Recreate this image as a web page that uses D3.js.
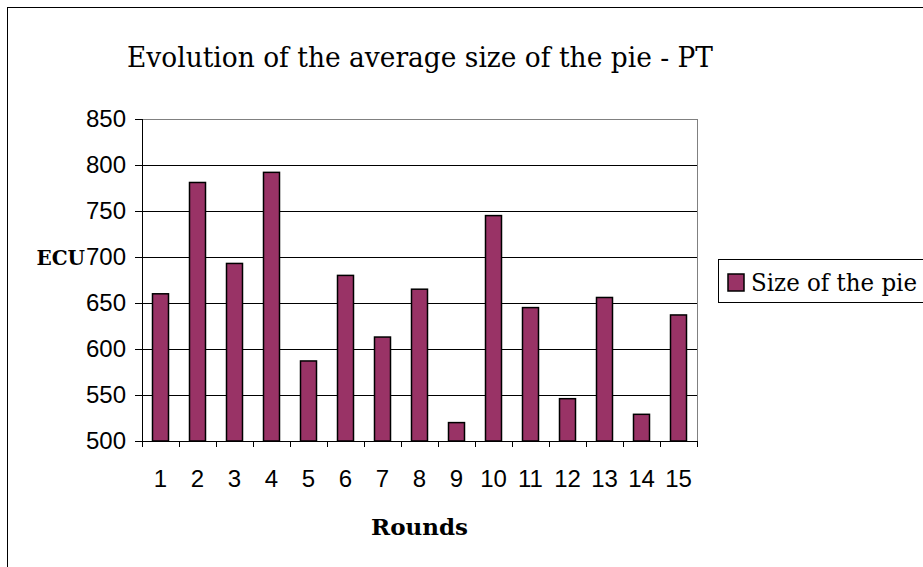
<!DOCTYPE html>
<html>
<head>
<meta charset="utf-8">
<script src="https://cdn.jsdelivr.net/npm/d3@7"></script>
<style>
    html, body { margin: 0; padding: 0; background: #fff; overflow: hidden; }
    svg { display: block; }
</style>
</head>
<body>
<div id="chart"></div>
<script>
const rounds = ["1", "2", "3", "4", "5", "6", "7", "8", "9", "10", "11", "12", "13", "14", "15"];
const pieSize = [660, 781, 693, 792, 587, 680, 613, 665, 520, 745, 645, 546, 656, 529, 637];
const yTicks = [500, 550, 600, 650, 700, 750, 800, 850];

const chartTitle = "Evolution of the average size of the pie - PT";
const yTitle = "ECU";
const xTitle = "Rounds";
const seriesName = "Size of the pie";

const width = 923, height = 567;
const plot = {left: 142, right: 697, top: 119, bottom: 441};
const barColor = "#993366";

const svg = d3.select("#chart").append("svg")
    .attr("width", width)
    .attr("height", height);

svg.append("rect")
    .attr("width", width)
    .attr("height", height)
    .attr("fill", "#fff");

// chart area border (right and bottom run off the page)
svg.append("rect")
    .attr("x", 7.5)
    .attr("y", 7.5)
    .attr("width", 1000)
    .attr("height", 1000)
    .attr("fill", "none")
    .attr("stroke", "#000");

const x = d3.scaleBand()
    .domain(rounds)
    .range([plot.left, plot.right])
    .paddingInner(21 / 37)
    .paddingOuter(21 / 74);

const xEdges = d3.scaleLinear()
    .domain([0, rounds.length])
    .range([plot.left, plot.right]);

const y = d3.scaleLinear()
    .domain([d3.min(yTicks), d3.max(yTicks)])
    .range([plot.bottom, plot.top]);

// gridlines
const grid = svg.append("g")
    .attr("transform", `translate(${plot.left},0)`)
    .call(d3.axisLeft(y).tickValues(yTicks).tickSize(-(plot.right - plot.left)).tickFormat(""));
grid.select(".domain").remove();
grid.selectAll(".tick line")
    .attr("stroke", (d) => d === d3.max(yTicks) ? "#808080" : "#000")
    .attr("shape-rendering", "crispEdges");

// plot area right border
svg.append("line")
    .attr("x1", plot.right).attr("x2", plot.right)
    .attr("y1", plot.top).attr("y2", plot.bottom)
    .attr("stroke", "#808080")
    .attr("shape-rendering", "crispEdges");

// bars
svg.append("g")
    .selectAll("rect")
    .data(pieSize)
    .join("rect")
    .attr("x", (d, i) => x(rounds[i]))
    .attr("y", (d) => y(d))
    .attr("width", x.bandwidth())
    .attr("height", (d) => y(d3.min(yTicks)) - y(d))
    .attr("fill", barColor)
    .attr("stroke", "#000")
    .attr("stroke-width", 1.5);

// y axis
const yAxis = svg.append("g")
    .attr("transform", `translate(${plot.left},0)`)
    .call(d3.axisLeft(y).tickValues(yTicks).tickSize(7).tickPadding(9).tickFormat(d3.format("d")));
yAxis.selectAll("line, path").attr("stroke", "#000").attr("shape-rendering", "crispEdges");
yAxis.selectAll("text")
    .attr("fill", "#000")
    .style("font-family", "'Liberation Sans', Arial, sans-serif")
    .style("font-size", "24px");

// x axis: ticks on category edges, labels at centres
const xTicks = svg.append("g")
    .attr("transform", `translate(0,${plot.bottom})`)
    .call(d3.axisBottom(xEdges).tickValues(d3.range(rounds.length + 1)).tickSize(6).tickFormat(""));
xTicks.selectAll("line, path").attr("stroke", "#000").attr("shape-rendering", "crispEdges");

const xLabels = svg.append("g")
    .attr("transform", `translate(0,${plot.bottom})`)
    .call(d3.axisBottom(x).tickSize(0).tickPadding(29));
xLabels.select(".domain").remove();
xLabels.selectAll("text")
    .attr("fill", "#000")
    .style("font-family", "'Liberation Sans', Arial, sans-serif")
    .style("font-size", "24px");

// titles
svg.append("text")
    .attr("x", 127)
    .attr("y", 67)
    .attr("textLength", 586)
    .attr("lengthAdjust", "spacingAndGlyphs")
    .style("font-family", "'DejaVu Serif', serif")
    .style("font-size", "27px")
    .text(chartTitle);

svg.append("text")
    .attr("x", 85)
    .attr("y", 265)
    .attr("text-anchor", "end")
    .style("font-family", "'DejaVu Serif', serif")
    .style("font-weight", "bold")
    .style("font-size", "20px")
    .text(yTitle);

svg.append("text")
    .attr("x", (plot.left + plot.right) / 2)
    .attr("y", 535)
    .attr("text-anchor", "middle")
    .style("font-family", "'DejaVu Serif', serif")
    .style("font-weight", "bold")
    .style("font-size", "23px")
    .text(xTitle);

// legend
const legend = svg.append("g");
legend.append("rect")
    .attr("x", 718.5)
    .attr("y", 259.5)
    .attr("width", 300)
    .attr("height", 43)
    .attr("fill", "#fff")
    .attr("stroke", "#000");
legend.append("rect")
    .attr("x", 728)
    .attr("y", 274)
    .attr("width", 16)
    .attr("height", 17)
    .attr("fill", barColor)
    .attr("stroke", "#000")
    .attr("stroke-width", 1.5);
legend.append("text")
    .attr("x", 751)
    .attr("y", 291)
    .style("font-family", "'DejaVu Serif', serif")
    .style("font-size", "24px")
    .attr("textLength", 166)
    .attr("lengthAdjust", "spacingAndGlyphs")
    .text(seriesName);
</script>
</body>
</html>
